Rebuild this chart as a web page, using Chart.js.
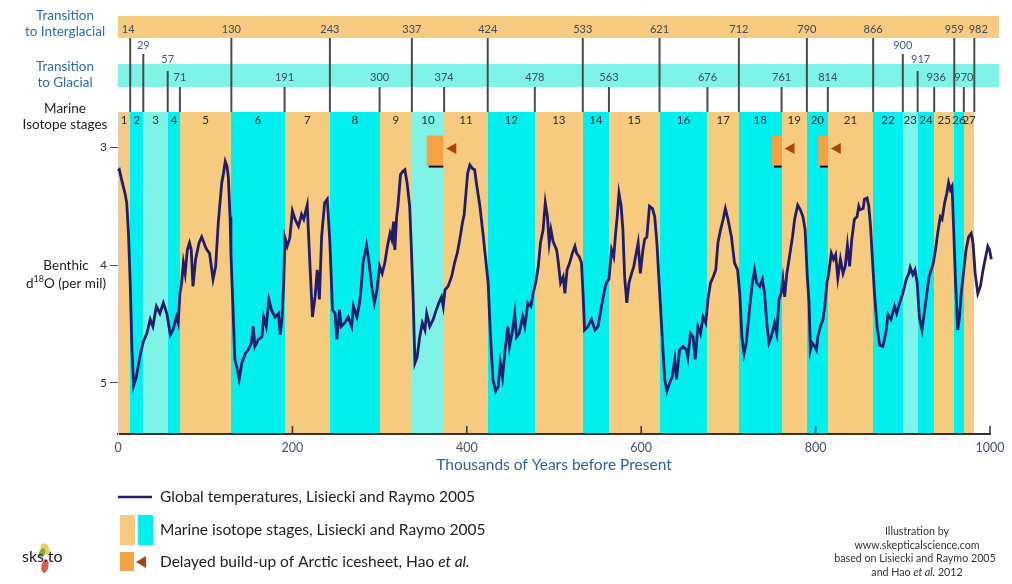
<!DOCTYPE html>
<html>
<head>
<meta charset="utf-8">
<script src="https://cdn.jsdelivr.net/npm/chart.js@4.4.1/dist/chart.umd.min.js"></script>
<style>
  html, body { margin: 0; padding: 0; background: #ffffff; }
  #wrap { position: relative; width: 1012px; height: 584px; }
</style>
</head>
<body>
<div id="wrap"><canvas id="chart"></canvas></div>
<script>
// Benthic d18O stack (per mil), age in thousands of years before present
const ageKa = [
  0, 1.5, 4, 8, 10, 12, 14, 16, 18, 21, 25, 29, 33, 37, 40, 44, 48, 52, 56, 60,
  63, 67, 69, 71, 73, 75, 77, 79.5, 82, 84, 86, 89, 93, 96, 100, 102, 105, 109, 112, 115,
  119, 121, 123, 125, 126.5, 128.5, 129.5, 131.5, 134, 137, 139, 142, 146, 149, 153, 155, 157, 161, 165, 167,
  170, 173, 176, 180, 184, 186, 188, 190, 191.5, 194, 197, 200, 203, 207, 210.5, 213, 217, 220, 223, 226,
  228.5, 231, 233.5, 237, 240, 243, 246, 249, 251, 254, 256, 260, 264, 268, 270, 274, 277, 279, 281, 285,
  288, 291, 294, 297, 300, 303, 306, 309, 312, 314, 316, 317.5, 319.5, 321, 324, 327, 329, 331.5, 334.5, 336.5,
  338.5, 340.5, 343, 346, 349, 352, 354, 357.5, 361.5, 365, 368, 371, 373, 375, 378.5, 382.5, 386, 389, 392, 395,
  397, 399, 401, 403.5, 406.5, 409, 411, 415, 419, 420.5, 424.5, 427, 430, 433, 436, 438.5, 441, 443.5, 447, 449,
  452.5, 455, 457, 460, 464, 466.5, 470, 473.5, 476, 479, 482, 484.5, 487.5, 490, 492.5, 494.5, 496.5, 499, 503, 504.5,
  507.5, 510.5, 512.5, 515, 518, 521, 524, 526, 529, 531.5, 533.5, 535, 539, 543, 547, 550.5, 554.5, 556, 558, 560,
  563, 566, 568.5, 571, 572.5, 574.5, 577, 579, 581, 583.5, 586, 589, 591.5, 593.5, 596.5, 599, 602, 604, 606.5, 609.5,
  613, 615.5, 618, 621, 624.5, 627, 629.5, 632.5, 635.5, 638.5, 640.5, 644, 648, 652, 653.5, 656.5, 659.5, 662, 665, 668,
  671, 674, 676.5, 679.5, 682.5, 685.5, 688, 691, 694, 696.5, 699.5, 703.5, 707, 710.5, 713, 715.5, 718, 720.5, 724.5, 727.5,
  730, 732.5, 736, 739, 741.5, 744, 746.5, 749, 753, 755.5, 758, 760.5, 762.5, 764.5, 767, 770, 773.5, 776, 779.5, 782.5,
  785.5, 788, 790.5, 792.5, 794, 796, 799, 801, 802.5, 805.5, 808.5, 810.5, 813, 815, 818, 820.5, 823, 825.5, 828.5, 831.5,
  834, 836.5, 839, 841.5, 844.5, 847.5, 849.5, 851, 854.5, 856, 859, 861, 863, 865, 867.5, 870.5, 873.5, 877, 879, 881,
  883, 886.5, 890.5, 893, 896.5, 900, 904, 907, 908.5, 911.5, 914, 916.5, 919, 922, 924, 927, 930, 932.5, 935, 937.5,
  940, 943, 945, 948, 950.5, 952.5, 954.5, 956.5, 958.5, 960.5, 963, 965, 967, 969.5, 972.5, 975.5, 978.5, 980.5, 983, 986,
  989, 992, 995, 997.5, 999.5, 1001.5
];
const d18O = [
  3.20, 3.19, 3.27, 3.39, 3.47, 3.73, 4.15, 4.72, 5.02, 4.95, 4.78, 4.65, 4.58, 4.46, 4.52, 4.35, 4.41, 4.32, 4.41, 4.59,
  4.55, 4.44, 4.49, 4.24, 4.15, 3.98, 4.07, 3.87, 3.81, 3.87, 4.18, 3.95, 3.81, 3.76, 3.84, 3.87, 3.90, 4.12, 4.01, 3.64,
  3.30, 3.22, 3.12, 3.16, 3.25, 3.59, 3.90, 4.29, 4.80, 4.89, 4.97, 4.83, 4.75, 4.72, 4.66, 4.52, 4.69, 4.63, 4.61, 4.44,
  4.52, 4.29, 4.38, 4.44, 4.41, 4.59, 4.46, 4.15, 3.77, 3.84, 3.77, 3.54, 3.61, 3.67, 3.57, 3.61, 3.49, 3.98, 4.44, 4.27,
  4.04, 4.29, 3.76, 3.47, 3.44, 3.81, 4.38, 4.41, 4.63, 4.38, 4.52, 4.49, 4.44, 4.52, 4.35, 4.44, 4.32, 4.18, 3.98, 3.83,
  3.98, 4.18, 4.32, 4.21, 4.01, 4.07, 3.98, 3.84, 3.73, 3.78, 3.63, 3.87, 3.59, 3.50, 3.23, 3.20, 3.19, 3.30, 3.50, 3.87,
  4.29, 4.83, 4.78, 4.61, 4.49, 4.55, 4.41, 4.52, 4.46, 4.38, 4.32, 4.27, 4.35, 4.21, 4.18, 4.10, 3.98, 3.90, 3.78, 3.64,
  3.57, 3.39, 3.22, 3.15, 3.18, 3.19, 3.30, 3.50, 3.76, 3.87, 4.15, 4.58, 4.97, 5.07, 5.03, 4.83, 4.95, 4.75, 4.52, 4.69,
  4.55, 4.41, 4.61, 4.58, 4.44, 4.52, 4.32, 4.35, 4.24, 4.15, 4.01, 3.81, 3.70, 3.47, 3.59, 3.81, 3.70, 3.80, 3.87, 3.95,
  4.15, 4.10, 4.24, 4.04, 3.98, 3.90, 3.84, 3.90, 3.93, 3.98, 4.27, 4.55, 4.52, 4.46, 4.55, 4.52, 4.35, 4.29, 4.21, 4.15,
  4.12, 3.87, 3.93, 3.70, 3.59, 3.39, 3.50, 3.70, 4.10, 4.32, 4.15, 4.07, 4.01, 3.93, 3.81, 4.07, 3.87, 3.78, 3.76, 3.50,
  3.52, 3.59, 3.81, 4.21, 4.66, 4.97, 5.07, 5.00, 4.95, 4.80, 4.97, 4.72, 4.69, 4.72, 4.78, 4.58, 4.61, 4.80, 4.52, 4.58,
  4.44, 4.49, 4.29, 4.15, 4.10, 4.04, 3.81, 3.70, 3.61, 3.52, 3.61, 3.76, 3.98, 4.04, 4.24, 4.61, 4.75, 4.66, 4.35, 4.15,
  4.04, 4.15, 4.18, 4.12, 4.24, 4.49, 4.66, 4.61, 4.49, 4.58, 4.29, 4.24, 4.12, 4.27, 4.07, 3.93, 3.76, 3.61, 3.49, 3.53,
  3.59, 3.70, 4.10, 4.32, 4.72, 4.66, 4.69, 4.72, 4.61, 4.52, 4.46, 4.35, 4.15, 4.07, 3.90, 3.95, 3.91, 4.11, 3.95, 4.07,
  4.01, 3.83, 4.01, 3.78, 3.61, 3.59, 3.50, 3.53, 3.52, 3.44, 3.43, 3.50, 3.67, 3.93, 4.24, 4.52, 4.68, 4.69, 4.63, 4.55,
  4.42, 4.46, 4.35, 4.41, 4.32, 4.24, 4.12, 4.07, 4.02, 4.08, 4.04, 4.15, 4.44, 4.55, 4.44, 4.27, 4.10, 4.04, 3.98, 3.87,
  3.73, 3.59, 3.61, 3.47, 3.39, 3.30, 3.36, 3.33, 3.73, 4.15, 4.55, 4.44, 4.24, 4.07, 3.87, 3.76, 3.73, 3.81, 4.07, 4.24,
  4.18, 4.04, 3.93, 3.84, 3.87, 3.95
];

// Marine isotope stage boundaries (ka) and the kind of each stage 1..27
const stageBounds = [0, 14, 29, 57, 71, 130, 191, 243, 300, 337, 374, 424, 478, 533, 563, 621, 676, 712, 761, 790, 814, 866, 900, 917, 936, 959, 970, 982];
const stageNames = ['1','2','3','4','5','6','7','8','9','10','11','12','13','14','15','16','17','18','19','20','21','22','23','24','25','26','27'];
const stageKinds = ['warm','cold','mild','cold','warm','cold','warm','cold','warm','mild','warm','cold','warm','cold','warm','cold','warm','cold','warm','cold','warm','cold','mild','cold','warm','cold','warm'];

// Transition ages (ka)
const toInterglacial = [14, 130, 243, 337, 424, 533, 621, 712, 790, 866, 959, 982];
const toGlacial = [71, 191, 300, 374, 478, 563, 676, 761, 814, 936, 970];
const minorUpper = [29, 900];
const minorLower = [57, 917];

// Delayed Arctic ice-sheet build-up intervals (ka)
const delayStart = [354, 750, 803];
const delayEnd = [373, 761, 814];

const xTickValues = [0, 200, 400, 600, 800, 1000];
const yTickValues = [3, 4, 5];

const FONT = 'Lato, "Open Sans", "DejaVu Sans", sans-serif';
const TAN = '#f6cb80';
const CYAN = '#00efef';
const PALE = '#7ef3e6';
const BOX = '#f5a244';
const ARROW = '#a8440f';
const NAVY = '#211d6c';
const kindColor = { warm: TAN, cold: CYAN, mild: PALE };

function richText(ctx, parts, x, y, align, size, color) {
  let total = 0;
  const widths = parts.map(p => {
    ctx.font = (p.i ? 'italic ' : '') + size + 'px ' + FONT;
    const w = ctx.measureText(p.t).width;
    total += w;
    return w;
  });
  let cx = align === 'center' ? x - total / 2 : x;
  ctx.fillStyle = color;
  ctx.textAlign = 'left';
  ctx.textBaseline = 'middle';
  parts.forEach((p, k) => {
    ctx.font = (p.i ? 'italic ' : '') + size + 'px ' + FONT;
    ctx.fillText(p.t, cx, y);
    cx += widths[k];
  });
}

function leftArrow(ctx, tipX, cy, w, h, color) {
  ctx.fillStyle = color;
  ctx.beginPath();
  ctx.moveTo(tipX, cy);
  ctx.lineTo(tipX + w, cy - h / 2);
  ctx.lineTo(tipX + w, cy + h / 2);
  ctx.closePath();
  ctx.fill();
}

const backdrop = {
  id: 'backdrop',
  beforeDraw(chart) {
    const { ctx, chartArea: a, scales: { x, y } } = chart;
    const px = v => Math.round(x.getPixelForValue(v));
    ctx.save();

    // header strips
    const h0 = px(0), h1 = px(1010);
    ctx.fillStyle = TAN;
    ctx.fillRect(h0, 16, h1 - h0, 22);
    ctx.fillStyle = PALE;
    ctx.fillRect(h0, 64, h1 - h0, 23);

    // isotope stage bands
    for (let i = 0; i < stageKinds.length; i++) {
      const l = px(stageBounds[i]), r = px(stageBounds[i + 1]);
      ctx.fillStyle = kindColor[stageKinds[i]];
      ctx.fillRect(l, a.top, r - l, a.bottom - a.top);
    }
    ctx.fillStyle = '#2a2a2a';
    ctx.font = '11.5px ' + FONT;
    ctx.textAlign = 'center';
    ctx.textBaseline = 'middle';
    for (let i = 0; i < stageNames.length; i++) {
      const c = (x.getPixelForValue(stageBounds[i]) + x.getPixelForValue(stageBounds[i + 1])) / 2;
      ctx.fillText(stageNames[i], c, a.top + 8);
    }

    // transition markers
    ctx.strokeStyle = '#4a4a4a';
    ctx.lineWidth = 2;
    const vline = (v, y0) => {
      const xx = x.getPixelForValue(v);
      ctx.beginPath();
      ctx.moveTo(xx, y0);
      ctx.lineTo(xx, a.top);
      ctx.stroke();
    };
    toInterglacial.forEach(v => vline(v, 38));
    toGlacial.forEach(v => vline(v, 87));
    minorUpper.forEach(v => vline(v, 54));
    minorLower.forEach(v => vline(v, 71));

    ctx.font = '11px ' + FONT;
    ctx.fillStyle = '#3c4a62';
    const shift = { 14: -2, 982: 4, 936: 2, 917: 3 };
    toInterglacial.forEach(v => ctx.fillText(String(v), x.getPixelForValue(v) + (shift[v] || 0), 29));
    toGlacial.forEach(v => ctx.fillText(String(v), x.getPixelForValue(v) + (shift[v] || 0), 77.5));
    ctx.fillStyle = '#3d5a8c';
    minorUpper.forEach(v => ctx.fillText(String(v), x.getPixelForValue(v) + (shift[v] || 0), 45.5));
    minorLower.forEach(v => ctx.fillText(String(v), x.getPixelForValue(v) + (shift[v] || 0), 59.5));

    // delayed ice-sheet build-up boxes
    const bt = y.getPixelForValue(2.9), bb = y.getPixelForValue(3.155);
    const mid = y.getPixelForValue(3.01);
    for (let i = 0; i < delayStart.length; i++) {
      const l = x.getPixelForValue(delayStart[i]), r = x.getPixelForValue(delayEnd[i]);
      ctx.fillStyle = BOX;
      ctx.fillRect(l, bt, r - l, bb - bt);
      ctx.fillStyle = '#111';
      ctx.fillRect(l + 2, bb, r - l - 2, 2);
      leftArrow(ctx, r + 3, mid, 10, 11, ARROW);
    }
    ctx.restore();
  },
  afterDraw(chart) {
    const { ctx, chartArea: a, scales: { x } } = chart;
    ctx.save();

    // inward ticks on the age axis
    ctx.strokeStyle = '#333';
    ctx.lineWidth = 1.5;
    xTickValues.slice(1).forEach(v => {
      const xx = x.getPixelForValue(v);
      ctx.beginPath();
      ctx.moveTo(xx, a.bottom);
      ctx.lineTo(xx, a.bottom - 8);
      ctx.stroke();
    });

    // axis title
    ctx.fillStyle = '#2c62a5';
    ctx.font = '15.5px ' + FONT;
    ctx.textAlign = 'center';
    ctx.textBaseline = 'middle';
    ctx.fillText('Thousands of Years before Present', (a.left + a.right) / 2, 465);

    // row captions on the left
    ctx.font = '13.5px ' + FONT;
    ctx.fillStyle = '#2f6aa8';
    ctx.fillText('Transition', 65, 16);
    ctx.fillText('to Interglacial', 65, 32);
    ctx.fillText('Transition', 65, 67);
    ctx.fillText('to Glacial', 65, 83);
    ctx.fillStyle = '#1e1e1e';
    ctx.fillText('Marine', 65, 109);
    ctx.fillText('Isotope stages', 65, 125);
    ctx.fillText('Benthic', 66, 266);

    // d18O caption with superscript
    ctx.textAlign = 'left';
    ctx.font = '13.5px ' + FONT;
    const w1 = ctx.measureText('d').width;
    ctx.font = '9px ' + FONT;
    const w2 = ctx.measureText('18').width;
    ctx.font = '13.5px ' + FONT;
    const w3 = ctx.measureText('O (per mil)').width;
    let sx = 66 - (w1 + w2 + w3) / 2;
    ctx.fillText('d', sx, 284);
    ctx.font = '9px ' + FONT;
    ctx.fillText('18', sx + w1, 279);
    ctx.font = '13.5px ' + FONT;
    ctx.fillText('O (per mil)', sx + w1 + w2, 284);

    // legend
    ctx.strokeStyle = NAVY;
    ctx.lineWidth = 2.5;
    ctx.beginPath();
    ctx.moveTo(118, 497);
    ctx.lineTo(152, 497);
    ctx.stroke();
    richText(ctx, [{ t: 'Global temperatures, Lisiecki and Raymo 2005' }], 160, 497, 'left', 15.5, '#222');
    ctx.fillStyle = TAN;
    ctx.fillRect(120, 515, 15, 30);
    ctx.fillStyle = CYAN;
    ctx.fillRect(138, 515, 15, 30);
    richText(ctx, [{ t: 'Marine isotope stages, Lisiecki and Raymo 2005' }], 160, 530, 'left', 15.5, '#222');
    ctx.fillStyle = BOX;
    ctx.fillRect(120, 552, 14, 19);
    leftArrow(ctx, 136, 562, 10, 12, ARROW);
    richText(ctx, [{ t: 'Delayed build-up of Arctic icesheet, Hao ' }, { t: 'et al.', i: true }], 160, 562, 'left', 15.5, '#222');

    // credits
    richText(ctx, [{ t: 'Illustration by' }], 917, 532, 'center', 10.7, '#333');
    richText(ctx, [{ t: 'www.skepticalscience.com' }], 917, 546, 'center', 10.7, '#333');
    richText(ctx, [{ t: 'based on Lisiecki and Raymo 2005' }], 915, 559, 'center', 10.7, '#333');
    richText(ctx, [{ t: 'and Hao ' }, { t: 'et al.', i: true }, { t: ' 2012' }], 917, 573, 'center', 10.7, '#333');

    // sks.to mark
    ctx.save();
    ctx.globalAlpha = 0.85;
    ctx.fillStyle = '#f2c230';
    ctx.beginPath(); ctx.ellipse(45, 549, 4, 6, -0.4, 0, Math.PI * 2); ctx.fill();
    ctx.fillStyle = '#6aa83a';
    ctx.beginPath(); ctx.ellipse(42, 553, 3, 5, 0.3, 0, Math.PI * 2); ctx.fill();
    ctx.fillStyle = '#d8402a';
    ctx.beginPath(); ctx.ellipse(45, 566, 3.5, 7, 0.2, 0, Math.PI * 2); ctx.fill();
    ctx.restore();
    ctx.fillStyle = '#1a1a1a';
    ctx.font = '16px ' + FONT;
    ctx.textAlign = 'left';
    ctx.textBaseline = 'middle';
    ctx.fillText('sks.to', 22, 557);

    ctx.restore();
  }
};

new Chart(document.getElementById('chart'), {
  type: 'line',
  data: {
    datasets: [{
      label: 'Global temperatures, Lisiecki and Raymo 2005',
      data: ageKa.map((a, i) => ({ x: a, y: d18O[i] })),
      borderColor: NAVY,
      borderWidth: 2.8,
      pointRadius: 0,
      tension: 0,
      fill: false,
      clip: false
    }]
  },
  options: {
    responsive: true,
    maintainAspectRatio: false,
    animation: false,
    devicePixelRatio: 1,
    layout: { padding: { top: 112, right: 22, bottom: 0, left: 0 } },
    plugins: { legend: { display: false }, tooltip: { enabled: false }, title: { display: false } },
    scales: {
      x: {
        type: 'linear',
        min: 0,
        max: 1000,
        afterFit: s => { s.height = 150; },
        afterBuildTicks: s => { s.ticks = xTickValues.map(v => ({ value: v })); },
        grid: { display: false, drawOnChartArea: false, drawTicks: false },
        border: { display: true, color: '#333', width: 2 },
        ticks: { padding: 6, color: '#44536d', font: { family: FONT, size: 12.5 }, callback: v => String(v) }
      },
      y: {
        type: 'linear',
        reverse: true,
        min: 2.7,
        max: 5.433,
        afterFit: s => { s.width = 118; },
        afterBuildTicks: s => { s.ticks = yTickValues.map(v => ({ value: v })); },
        grid: { display: true, drawOnChartArea: false, drawTicks: true, tickLength: 8, color: '#555', lineWidth: 1 },
        border: { display: true, color: '#cfcfcf', width: 1 },
        ticks: { padding: 3, color: '#333', font: { family: FONT, size: 12 }, callback: v => String(v) }
      }
    }
  },
  plugins: [backdrop]
});
</script>
</body>
</html>
